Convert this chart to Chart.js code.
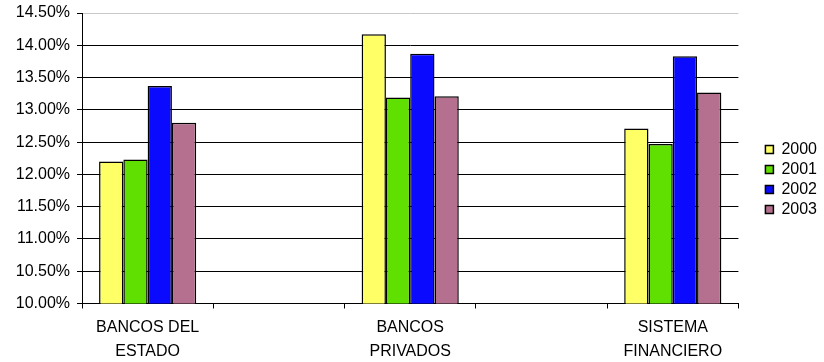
<!DOCTYPE html>
<html>
<head>
<meta charset="utf-8">
<script src="https://cdn.jsdelivr.net/npm/chart.js@4"></script>
<style>
  html, body { margin: 0; padding: 0; background: #fff; }
  #wrap { width: 824px; height: 362px; }
</style>
</head>
<body>
<div id="wrap"><canvas id="barChart" width="824" height="362"></canvas></div>
<script>
// categories (empty slots keep the gaps between the groups)
var categories = [['BANCOS DEL', 'ESTADO'], '', ['BANCOS', 'PRIVADOS'], '', ['SISTEMA', 'FINANCIERO']];
var years = ['2000', '2001', '2002', '2003'];

var values2000 = [12.20, null, 14.17, null, 12.71];
var values2001 = [12.23, null, 13.19, null, 12.47];
var values2002 = [13.37, null, 13.87, null, 13.83];
var values2003 = [12.80, null, 13.21, null, 13.27];

var colors = ['#FFFF66', '#60E000', '#0A0AFF', '#B5708F'];

var yTicksMin = 10, yTicksMax = 14.5, yStep = 0.5;

var series = [values2000, values2001, values2002, values2003];

Chart.defaults.font.family = '"Liberation Sans", Arial, sans-serif';
Chart.defaults.color = '#000';

var datasets = [];
for (var i = 0; i < years.length; i++) {
  datasets.push({
    label: years[i],
    data: series[i],
    backgroundColor: colors[i],
    borderColor: '#000',
    borderWidth: 1.5,
    borderSkipped: 'start',
    categoryPercentage: 0.74,
    barPercentage: 1.0
  });
}

// move the legend a little so it sits like the excel one
var legendNudge = {
  id: 'legendNudge',
  afterLayout: function(chart) {
    var lg = chart.legend;
    lg.bottom = 346;
    lg.height = lg.bottom - lg.top;
    lg.left += 3;
    lg.right += 3;
  }
};

var ctx = document.getElementById('barChart');
new Chart(ctx, {
  type: 'bar',
  data: { labels: categories, datasets: datasets },
  plugins: [legendNudge],
  options: {
    responsive: false,
    animation: false,
    layout: { padding: { top: 13, right: 0, bottom: 0, left: 0 } },
    plugins: {
      tooltip: { enabled: false },
      legend: {
        position: 'right',
        labels: {
          boxWidth: 8,
          boxHeight: 8,
          padding: 4,
          color: '#000',
          font: { size: 16 }
        }
      }
    },
    scales: {
      x: {
        grid: {
          offset: true,
          drawOnChartArea: false,
          drawTicks: true,
          tickLength: 5,
          color: '#000'
        },
        border: { color: '#000', width: 1 },
        ticks: {
          autoSkip: false,
          maxRotation: 0,
          padding: 7,
          font: { size: 16, lineHeight: 1.5 }
        },
        afterFit: function(scale) { scale.height = 58.5; }
      },
      y: {
        min: yTicksMin,
        max: yTicksMax,
        grid: {
          color: function(c) { return c.tick && c.tick.value === yTicksMax ? '#c8c8c8' : '#000'; },
          tickColor: '#000',
          tickLength: 5,
          lineWidth: 1
        },
        border: { color: '#000', width: 1 },
        ticks: {
          stepSize: yStep,
          padding: 7,
          font: { size: 16, lineHeight: 0.75 },
          callback: function(v) { return v.toFixed(2) + '%'; }
        },
        afterFit: function(scale) { scale.width = 82; }
      },
      spacer: {
        position: 'right',
        display: true,
        grid: { display: false },
        border: { display: false },
        ticks: { display: false },
        afterFit: function(scale) { scale.width = 20; }
      }
    }
  }
});
</script>
</body>
</html>
